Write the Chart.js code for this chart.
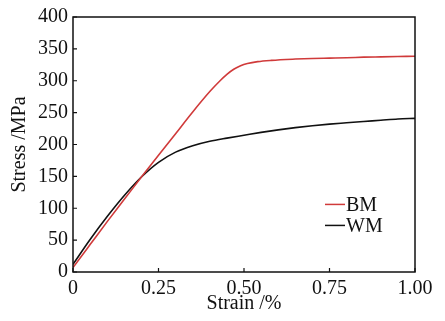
<!DOCTYPE html>
<html>
<head>
<meta charset="utf-8">
<script src="https://cdn.jsdelivr.net/npm/chart.js@4"></script>
<style>
  html, body { margin: 0; padding: 0; background: #fff; }
  #wrap { width: 445px; height: 321px; }
</style>
</head>
<body>
<div id="wrap"><canvas id="c"></canvas></div>
<script>
// strain (%) sample points
const strainBM = [0, 0.05, 0.1, 0.15, 0.2, 0.25, 0.3, 0.35, 0.4, 0.43, 0.45, 0.47, 0.49, 0.51, 0.54, 0.58, 0.65, 0.7, 0.75, 0.8, 0.85, 0.9, 0.95, 1.0];
const stressBM = [7, 43, 79, 114, 149, 183, 217, 251, 283, 300, 310, 318, 323.5, 327, 330, 332, 334, 335, 335.5, 336, 337, 337.5, 338, 338.5];

const strainWM = [0, 0.05, 0.1, 0.15, 0.2, 0.25, 0.3, 0.35, 0.4, 0.45, 0.5, 0.55, 0.6, 0.65, 0.7, 0.75, 0.8, 0.85, 0.9, 0.95, 1.0];
const stressWM = [12, 51, 87, 120, 149, 172, 188, 198, 205, 210, 214.5, 219, 223, 226.5, 229.5, 232, 234, 236, 238, 240, 241];

const xTicks = [0, 0.25, 0.5, 0.75, 1.0];
const yTicks = [0, 50, 100, 150, 200, 250, 300, 350, 400];

const FONT = 'Liberation Serif';

// box frame, inward ticks and the legend in the middle right
const framePlugin = {
    id: 'frame',
    afterDraw(chart) {
        const { ctx, chartArea: a, scales } = chart;
        ctx.save();
        ctx.strokeStyle = '#111';
        ctx.lineWidth = 1.5;
        ctx.strokeRect(a.left, a.top, a.right - a.left, a.bottom - a.top);

        ctx.lineWidth = 1.2;
        ctx.beginPath();
        xTicks.forEach(v => {
            const px = scales.x.getPixelForValue(v);
            ctx.moveTo(px, a.bottom);
            ctx.lineTo(px, a.bottom - 4);
        });
        yTicks.forEach(v => {
            const py = scales.y.getPixelForValue(v);
            ctx.moveTo(a.left, py);
            ctx.lineTo(a.left + 4, py);
        });
        ctx.stroke();

        // legend
        const lx = a.right - 90;
        let ly = a.top + (a.bottom - a.top) * 0.735;
        ctx.font = '20px "' + FONT + '"';
        ctx.textBaseline = 'middle';
        chart.data.datasets.forEach(ds => {
            ctx.strokeStyle = ds.borderColor;
            ctx.lineWidth = 1.5;
            ctx.beginPath();
            ctx.moveTo(lx, ly);
            ctx.lineTo(lx + 20, ly);
            ctx.stroke();
            ctx.fillStyle = '#111';
            ctx.fillText(ds.label, lx + 21, ly + 1);
            ly += 21;
        });
        ctx.restore();
    }
};

new Chart(document.getElementById('c'), {
    type: 'line',
    data: {
        datasets: [{
            label: 'BM',
            data: strainBM.map((s, i) => ({ x: s, y: stressBM[i] })),
            borderColor: '#d03a3a',
            borderWidth: 1.6,
            pointRadius: 0,
            cubicInterpolationMode: 'monotone',
            fill: false
        }, {
            label: 'WM',
            data: strainWM.map((s, i) => ({ x: s, y: stressWM[i] })),
            borderColor: '#111111',
            borderWidth: 1.6,
            pointRadius: 0,
            cubicInterpolationMode: 'monotone',
            fill: false
        }]
    },
    options: {
        responsive: true,
        maintainAspectRatio: false,
        animation: false,
        layout: { padding: { left: 8, right: 30, top: 6, bottom: 7 } },
        plugins: {
            legend: { display: false },
            tooltip: { enabled: false }
        },
        scales: {
            x: {
                type: 'linear',
                min: 0,
                max: 1,
                grid: { display: false, drawTicks: false },
                border: { display: false },
                afterBuildTicks: axis => { axis.ticks = xTicks.map(v => ({ value: v })); },
                ticks: {
                    color: '#111',
                    font: { family: FONT, size: 20, lineHeight: 1.2 },
                    padding: 5,
                    maxRotation: 0,
                    callback: v => v === 0 ? '0' : v.toFixed(2)
                },
                title: {
                    display: true,
                    text: 'Strain /%',
                    color: '#111',
                    font: { family: FONT, size: 20, lineHeight: 1 },
                    padding: { top: -12, bottom: 0 }
                }
            },
            y: {
                type: 'linear',
                min: 0,
                max: 400,
                grid: { display: false, drawTicks: false },
                border: { display: false },
                afterBuildTicks: axis => { axis.ticks = yTicks.map(v => ({ value: v })); },
                ticks: {
                    color: '#111',
                    font: { family: FONT, size: 20 },
                    padding: 5
                },
                title: {
                    display: true,
                    text: 'Stress /MPa',
                    color: '#111',
                    font: { family: FONT, size: 20 },
                    padding: { top: 0, bottom: 1 }
                }
            }
        }
    },
    plugins: [framePlugin]
});
</script>
</body>
</html>
